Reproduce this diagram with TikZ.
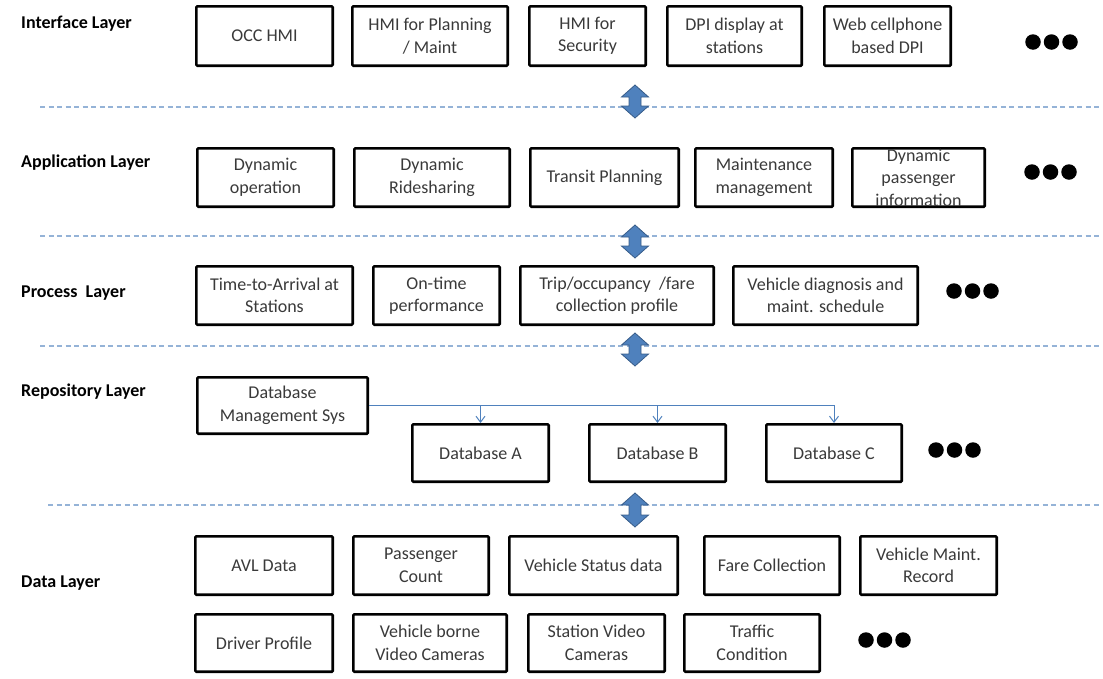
\documentclass[tikz,border=0pt]{standalone}
\usepackage{fontspec}
\setmainfont{Carlito}
\usetikzlibrary{arrows.meta}
\definecolor{arrowblue}{HTML}{4F81BD}
\definecolor{arrowedge}{HTML}{385D8A}
\definecolor{dashblue}{HTML}{95B3D7}
\definecolor{boxtext}{HTML}{3A3A3A}
\tikzset{
  box/.style={draw=black, line width=2.6pt, rounded corners=1pt, fill=white,
    inner sep=0pt, align=center, text=boxtext,
    font=\fontsize{18}{22.5}\selectfont},
  boxtxt/.style={inner sep=0pt, align=center, text=boxtext,
    font=\fontsize{18}{22.5}\selectfont},
  layerlabel/.style={anchor=west, inner sep=0pt, text=black,
    font=\fontsize{18}{22}\selectfont\bfseries},
  sep/.style={draw=dashblue, line width=1.1pt, dash pattern=on 5pt off 3.5pt},
  dbl/.style={fill=arrowblue, draw=arrowedge, line width=0.8pt, line join=miter},
  conn/.style={draw=arrowblue, line width=1pt,
    -{Straight Barb[length=6pt,width=9pt,line width=1pt]}},
  dot/.style={circle, fill=black, inner sep=0pt, minimum size=15.5pt}
}
% box by corners: name, x1, y1, x2, y2, text
\newcommand{\bx}[6]{%
  \node[box, minimum width={#4-#2-2.6}, minimum height={#5-#3-2.6}]
    (#1) at ({(#2+#4)/2},{(#3+#5)/2}) {#6};}
% up-down arrow: cx, ytop, ybottom
\newcommand{\updown}[3]{%
  \path[dbl] (#1,#2) -- (#1+13.5,#2+12) -- (#1+6,#2+12) -- (#1+6,#3-12)
    -- (#1+13.5,#3-12) -- (#1,#3) -- (#1-13.5,#3-12) -- (#1-6,#3-12)
    -- (#1-6,#2+12) -- (#1-13.5,#2+12) -- cycle;}
% three dots: prefix, x of first centre, y
\newcommand{\threedots}[3]{%
  \node[dot] (#1a) at (#2,#3) {};
  \node[dot] (#1b) at (#2+18.5,#3) {};
  \node[dot] (#1c) at (#2+37,#3) {};}
\begin{document}
\begin{tikzpicture}[x=1pt,y=-1pt]
\useasboundingbox (0,0) rectangle (1103,678);

% layer labels
\node[layerlabel] (lInterface) at (21,24) {Interface Layer};
\node[layerlabel] (lApplication) at (21,163) {Application Layer};
\node[layerlabel] (lProcess) at (21,293) {Process\ \ Layer};
\node[layerlabel] (lRepository) at (21,392) {Repository Layer};
\node[layerlabel] (lData) at (21,583) {Data Layer};

% separators
\draw[sep] (40,107) -- (1100,107);
\draw[sep] (40,236) -- (1100,236);
\draw[sep] (40,346) -- (1100,346);
\draw[sep] (48,505) -- (1100,505);

% double arrows
\updown{635}{85}{118}
\updown{635}{225}{258}
\updown{635}{333}{366}
\updown{635}{493}{527}

% interface layer
\bx{i1}{195}{5}{334}{67}{OCC HMI}
\bx{i2}{351}{5}{509}{67}{HMI for Planning\\/ Maint}
\bx{i3}{528}{5}{647}{67}{HMI for\\Security}
\bx{i4}{666}{5}{803}{67}{DPI display at\\stations}
\bx{i5}{823}{5}{952}{67}{Web cellphone\\based DPI}
\threedots{di}{1033}{42}

% application layer
\bx{a1}{196}{147}{335}{208}{Dynamic\\operation}
\bx{a2}{353}{147}{511}{208}{Dynamic\\Ridesharing}
\bx{a3}{529}{147}{680}{208}{Transit Planning}
\bx{a4}{694}{147}{834}{208}{Maintenance\\management}
\bx{a5}{851}{147}{986}{208}{}
\node[boxtxt] (a5t) at (a5.center) {Dynamic\\passenger\\information};
\threedots{da}{1032}{172}

% process layer
\bx{p1}{195}{265}{354}{326}{Time-to-Arrival at\\Stations}
\bx{p2}{372}{265}{501}{326}{On-time\\performance}
\bx{p3}{519}{265}{715}{326}{Trip/occupancy\ \ /fare\\collection profile}
\bx{p4}{732}{265}{919}{326}{Vehicle diagnosis and\\maint. schedule}
\threedots{dp}{954}{291}

% repository layer
\bx{dbms}{196}{376}{369}{435}{Database\\Management Sys}
\bx{dba}{411}{423}{550}{483}{Database A}
\bx{dbb}{588}{423}{727}{483}{Database B}
\bx{dbc}{765}{423}{903}{483}{Database C}
\threedots{dr}{936}{450}
\draw[conn] (dbms.east) -| (dbc.north);
\draw[conn] (dba.north |- dbms.east) -- (dba.north);
\draw[conn] (dbb.north |- dbms.east) -- (dbb.north);

% data layer
\bx{d1}{194}{535}{334}{596}{AVL Data}
\bx{d2}{352}{535}{490}{596}{Passenger\\Count}
\bx{d3}{508}{535}{679}{596}{Vehicle Status data}
\bx{d4}{703}{535}{841}{596}{Fare Collection}
\bx{d5}{859}{535}{998}{596}{Vehicle Maint.\\Record}
\bx{e1}{194}{613}{334}{673}{Driver Profile}
\bx{e2}{352}{613}{508}{673}{Vehicle borne\\Video Cameras}
\bx{e3}{527}{613}{666}{673}{Station Video\\Cameras}
\bx{e4}{683}{613}{821}{673}{Traffic\\Condition}
\threedots{dd}{866}{640}
\end{tikzpicture}
\end{document}
